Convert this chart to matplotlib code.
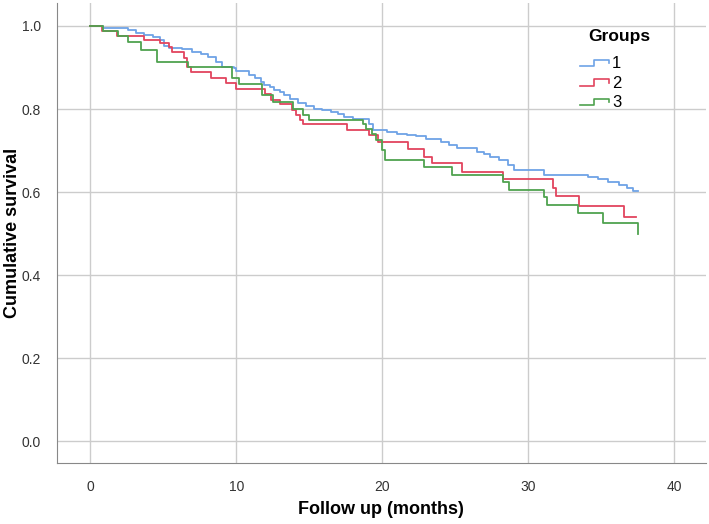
# Kaplan-Meier style survival curves, three groups

import matplotlib
matplotlib.use('Agg')
import matplotlib.pyplot as plt
from matplotlib.legend_handler import HandlerBase
from matplotlib.lines import Line2D

plt.rcParams['font.family'] = ['Liberation Sans', 'DejaVu Sans']

# Data (step times in months, survival after each step)
t1 = [0.0, 0.9, 2.6, 3.1, 3.7, 4.3, 4.8, 5.05, 5.4, 6.3, 7.0, 7.6, 8.1, 8.6, 9.05,
      9.85, 10.0, 10.9, 11.3, 11.7, 11.9, 12.3, 12.6, 13.0, 13.3, 13.7, 14.2, 14.8,
      15.3, 15.9, 16.5, 17.0, 17.4, 18.0, 18.5, 19.1, 19.4, 20.3, 21.0, 21.7, 22.3,
      23.0, 24.0, 24.6, 25.1, 26.5, 27.0, 27.4, 28.0, 28.6, 29.0, 31.1, 34.1, 34.8,
      35.5, 36.2, 36.8, 37.2]
s1 = [1.0, 0.996, 0.990, 0.982, 0.978, 0.974, 0.966, 0.951, 0.948, 0.944, 0.938,
      0.932, 0.926, 0.914, 0.902, 0.898, 0.892, 0.883, 0.875, 0.866, 0.858, 0.852,
      0.846, 0.840, 0.834, 0.824, 0.814, 0.807, 0.801, 0.797, 0.793, 0.787, 0.781,
      0.777, 0.775, 0.765, 0.749, 0.745, 0.741, 0.737, 0.735, 0.729, 0.721, 0.713,
      0.705, 0.697, 0.691, 0.685, 0.677, 0.665, 0.653, 0.641, 0.637, 0.631, 0.625,
      0.617, 0.609, 0.603]
end1 = 37.5

t2 = [0.0, 0.8, 1.85, 3.65, 4.8, 5.4, 5.6, 6.4, 6.6, 6.9, 8.25, 9.3, 10.0, 12.0,
      12.4, 13.0, 13.8, 14.1, 14.4, 14.6, 17.6, 19.1, 19.7, 21.8, 22.9, 23.4, 25.5,
      28.3, 31.7, 31.9, 33.5, 36.6]
s2 = [1.0, 0.989, 0.977, 0.966, 0.960, 0.950, 0.938, 0.922, 0.902, 0.889, 0.874,
      0.862, 0.848, 0.836, 0.822, 0.812, 0.797, 0.785, 0.773, 0.764, 0.749, 0.737,
      0.721, 0.703, 0.685, 0.669, 0.649, 0.631, 0.609, 0.590, 0.566, 0.540]
end2 = 37.4

t3 = [0.0, 0.9, 1.9, 2.6, 3.5, 4.6, 6.7, 9.7, 10.2, 11.8, 12.5, 13.9, 14.6, 15.0,
      18.7, 18.9, 19.3, 19.6, 20.0, 20.2, 22.9, 24.8, 28.3, 28.7, 31.1, 31.3, 33.4,
      35.1, 37.5]
s3 = [1.0, 0.989, 0.977, 0.961, 0.942, 0.914, 0.902, 0.874, 0.860, 0.834, 0.818,
      0.801, 0.786, 0.773, 0.765, 0.753, 0.741, 0.725, 0.701, 0.677, 0.661, 0.641,
      0.625, 0.605, 0.589, 0.569, 0.549, 0.525, 0.500]
end3 = 37.5

groups = ['1', '2', '3']
colors = ['#6ea3e6', '#e2445e', '#4fa24f']


class StepHandler(HandlerBase):
    def create_artists(self, legend, orig_handle, xdescent, ydescent,
                       width, height, fontsize, trans):
        x0, x1 = -xdescent, -xdescent + width
        xm = x0 + width * 0.5
        yb = -ydescent + height * 0.15
        yt = -ydescent + height * 0.7
        ln = Line2D([x0, xm, xm, x1, x1], [yb, yb, yt, yt, yt - height * 0.3],
                    color=orig_handle.get_color(), lw=1.2, transform=trans)
        return [ln]


fig = plt.figure(figsize=(7.09, 5.24), dpi=100)
ax = fig.add_axes([0.081, 0.116, 0.915, 0.878])

handles = []
for t, s, e, c, g in [(t1, s1, end1, colors[0], groups[0]),
                      (t2, s2, end2, colors[1], groups[1]),
                      (t3, s3, end3, colors[2], groups[2])]:
    ln, = ax.step(t + [e], s + [s[-1]], where='post', color=c, lw=1.3, label=g)
    handles.append(ln)

ax.set_xlim(-2.25, 42.2)
ax.set_ylim(-0.053, 1.055)
ax.set_xticks([0, 10, 20, 30, 40])
ax.set_yticks([0.0, 0.2, 0.4, 0.6, 0.8, 1.0])
ax.set_yticklabels(['0.0', '0.2', '0.4', '0.6', '0.8', '1.0'])
ax.grid(True, color='#cccccc', lw=1)
ax.set_axisbelow(True)
ax.tick_params(length=0, labelsize=10, colors='#333333', pad=12)
for sp in ['top', 'right']:
    ax.spines[sp].set_visible(False)
for sp in ['left', 'bottom']:
    ax.spines[sp].set_color('#888888')

fig.text(0.537, 0.027, 'Follow up (months)', fontsize=13, fontweight='bold',
         ha='center', va='center')
fig.text(0.018, 0.555, 'Cumulative survival', fontsize=13, fontweight='bold',
         ha='center', va='center', rotation=90)

# legend title as a separate text, entries below it
ax.text(0.866, 0.928, 'Groups', transform=ax.transAxes, fontsize=12.5,
        fontweight='bold', ha='center', va='center')
leg = ax.legend(handles=handles, labels=groups,
                handler_map={Line2D: StepHandler()},
                loc='upper left', bbox_to_anchor=(0.806, 0.885), frameon=False,
                fontsize=12, handlelength=1.7, handletextpad=0.2,
                labelspacing=0.27, borderaxespad=0, borderpad=0)

fig.savefig('out.png', dpi=100)
